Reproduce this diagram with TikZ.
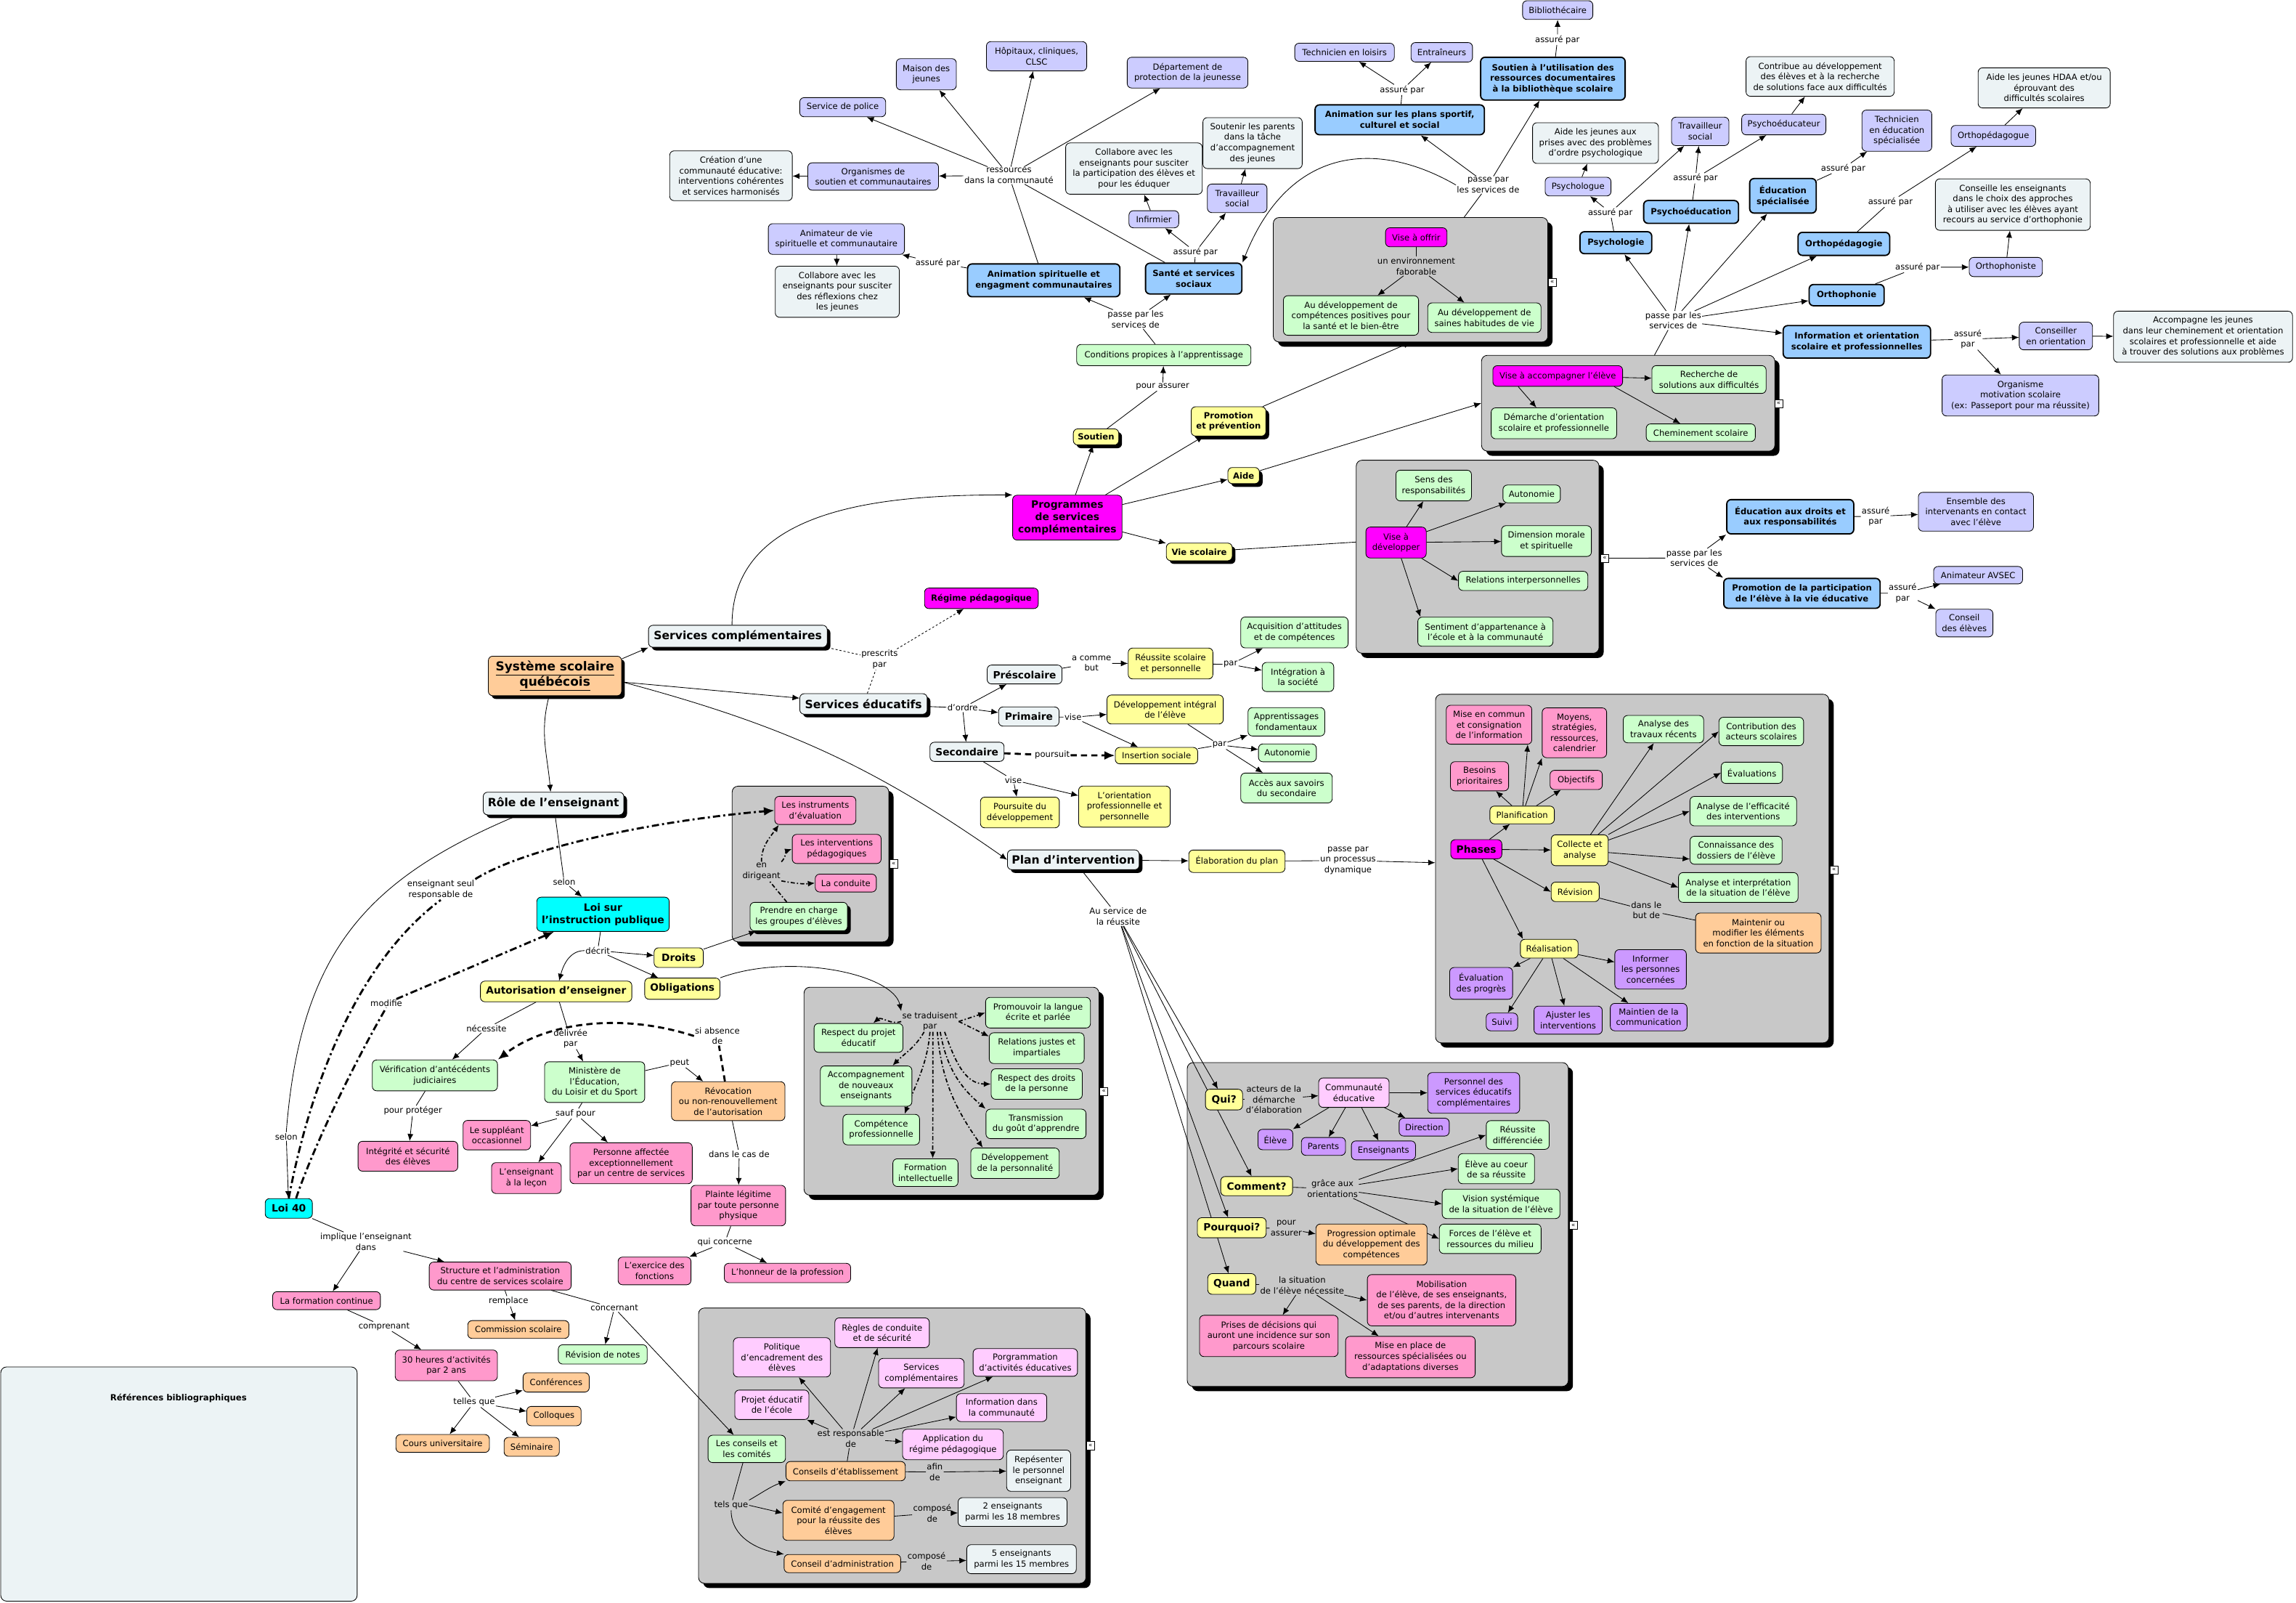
\documentclass[tikz,border=0pt]{standalone}
\usepackage{fontspec}
\setmainfont{DejaVu Sans}
\usetikzlibrary{arrows.meta,shadows}
\pgfdeclarelayer{bg}\pgfdeclarelayer{mid}\pgfsetlayers{bg,mid,main}
\definecolor{cLav}{HTML}{CCCCFF}
\definecolor{cGry}{HTML}{ECF3F5}
\definecolor{cGrn}{HTML}{CCFFCC}
\definecolor{cYel}{HTML}{FFFF99}
\definecolor{cMag}{HTML}{FF00FF}
\definecolor{cPnk}{HTML}{FF99CC}
\definecolor{cLpk}{HTML}{FFCCFF}
\definecolor{cPur}{HTML}{CC99FF}
\definecolor{cOrg}{HTML}{FFCC99}
\definecolor{cCya}{HTML}{00FFFF}
\definecolor{cBlu}{HTML}{99CCFF}
\definecolor{cCont}{HTML}{C8C8C8}
\newcommand\ftN{\fontsize{8.2}{10.3}\selectfont}
\newcommand\ftB{\fontsize{8.2}{10.3}\selectfont\bfseries}
\newcommand\ftM{\fontsize{9.7}{11.5}\selectfont\bfseries}
\newcommand\ftP{\fontsize{9.8}{11.9}\selectfont\bfseries}
\newcommand\ftH{\fontsize{11}{13}\selectfont\bfseries}
\newcommand\ftS{\fontsize{12}{15}\selectfont\bfseries}
\tikzset{
 bx/.style={draw, rounded corners=1.5mm, line width=0.6pt, align=center, inner xsep=1.5pt, inner ysep=1pt, font=\ftN, text=black},
 lav/.style={bx, fill=cLav}, gry/.style={bx, fill=cGry}, grn/.style={bx, fill=cGrn},
 yel/.style={bx, fill=cYel}, mag/.style={bx, fill=cMag}, pnk/.style={bx, fill=cPnk},
 lpk/.style={bx, fill=cLpk}, pur/.style={bx, fill=cPur}, org/.style={bx, fill=cOrg},
 cya/.style={bx, fill=cCya}, blu/.style={bx, fill=cBlu, line width=1.3pt, font=\ftB},
 shd/.style={drop shadow={shadow xshift=0.11cm, shadow yshift=-0.11cm, fill=black, opacity=1}},
 cont/.style={draw, fill=cCont, rounded corners=2mm, line width=0.6pt, drop shadow={shadow xshift=0.16cm, shadow yshift=-0.16cm, fill=black, opacity=1}},
 lbl/.style={inner sep=0.8pt, align=center, font=\ftN, text=black},
 mw/.style={minimum width=#1*0.05cm}, mh/.style={minimum height=#1*0.05cm},
 con/.style={draw, line width=0.6pt},
 arr/.style={con, -{Latex[length=2.4mm,width=2mm]}},
 tarr/.style={-{Latex[length=3.6mm,width=3mm]}},
 dd/.style={line width=1.2pt, dash pattern=on 4pt off 2pt on 1.2pt off 2pt},
 DD/.style={line width=2pt, dash pattern=on 7pt off 3pt on 2pt off 3pt},
 dshT/.style={line width=2pt, dash pattern=on 6pt off 4pt},
 dsh2/.style={line width=0.6pt, dash pattern=on 2pt off 2pt},
 xp/.style={draw, fill=white, inner sep=0pt, minimum size=0.28cm, line width=0.4pt, font=\fontsize{6}{6}\selectfont}
}
\begin{document}
\begin{tikzpicture}[x=0.05cm,y=-0.05cm]
\path[use as bounding box] (0,0) rectangle (1568,1094);
\begin{pgfonlayer}{bg}
\fill[white] (0,0) rectangle (1568,1094);
\node[cont,mw=187.5,mh=85] (cont1) at (963.3,191) {};
\node[cont,mw=200.3,mh=65.4] (cont2) at (1111.9,275.3) {};
\node[cont,mw=165.8,mh=131.8] (cont3) at (1009.1,380.1) {};
\node[cont,mw=268.7,mh=238] (cont4) at (1114.7,593) {};
\node[cont,mw=107,mh=106.3] (cont5) at (553.5,589.9) {};
\node[cont,mw=201.4,mh=142] (cont6) at (649.8,745) {};
\node[cont,mw=264.5,mh=188] (cont7) at (609.3,987) {};
\node[cont,mw=260.2,mh=221.1] (cont8) at (940.9,836) {};
\node[gry,rounded corners=2mm,mw=243.4,mh=159.9] (refbox) at (122.2,1013.2) {};
\end{pgfonlayer}
% expand icons
\node[xp] (xp1) at (1060,192.7) {«};
\node[xp] (xp2) at (1214.7,275.6) {«};
\node[xp] (xp3) at (1095.9,381.1) {«};
\node[xp] (xp4) at (1252.5,593.8) {«};
\node[xp] (xp5) at (610.3,589.8) {«};
\node[xp] (xp6) at (753.8,745.2) {«};
\node[xp] (xp7) at (744.7,987) {«};
\node[xp] (xp8) at (1074.4,836.5) {«};
% top left
\node[lav,mw=41,mh=21.3] (maison) at (632.6,50.7) {Maison des\\jeunes};
\node[lav,mw=68.5,mh=20] (hopit) at (707.9,38.4) {Hôpitaux, cliniques,\\CLSC};
\node[lav,mw=82.4,mh=21] (dpj) at (811,49.6) {Département de\\protection de la jeunesse};
\node[lav,mw=58.7,mh=13.1] (police) at (575.5,73.2) {Service de police};
\node[gry,mw=83.7,mh=34] (creation) at (499.2,120) {Création d'une\\communauté éducative:\\interventions cohérentes\\et services harmonisés};
\node[lav,mw=89.3,mh=18.7] (organ) at (596.3,120.5) {Organismes de\\soutien et communautaires};
\node[lbl] (lres) at (689,119.8) {ressources\\dans la communauté};
\node[lav,mw=93,mh=21] (animvie) at (571.2,163.2) {Animateur de vie\\spirituelle et communautaire};
\node[gry,mw=84.7,mh=34.9] (collspi) at (571.8,199.2) {Collabore avec les\\enseignants pour susciter\\des réflexions chez\\les jeunes};
\node[lbl] (lasp) at (640.4,179.7) {assuré par};
\node[blu,mw=104,mh=22.4] (animspi) at (712.8,191.4) {Animation spirituelle et\\engagment communautaires};
\node[gry,mw=93.3,mh=35] (collsan) at (774.4,115.1) {Collabore avec les\\enseignants pour susciter\\la participation des élèves et\\pour les éduquer};
\node[lav,mw=34,mh=11.7] (infirm) at (788,149.7) {Infirmier};
\node[gry,mw=67.8,mh=34.8] (soutpar) at (855.4,97.7) {Soutenir les parents\\dans la tâche\\d'accompagnement\\des jeunes};
\node[lav,mw=40.7,mh=19.5] (travsan) at (844.9,135.4) {Travailleur\\social};
\node[lbl] (lasan) at (816.4,172) {assuré par};
\node[blu,mw=65.8,mh=21] (sante) at (815.2,190.2) {Santé et services\\sociaux};
\node[lbl] (lpps1) at (775.5,218) {passe par les\\services de};
\node[grn,mw=119,mh=14.5] (cond) at (794.8,242.4) {Conditions propices à l'apprentissage};
\node[lbl] (lpour) at (794,264) {pour assurer};
\node[yel,shd,font=\ftB,mw=31,mh=11] (soutien) at (748.5,298.3) {Soutien};
\node[mag,font=\ftP,mw=74.7,mh=30.6] (prog) at (728.9,353.4) {Programmes\\de services\\complémentaires};
% top middle
\node[lav,mw=48,mh=12.8] (biblio) at (1063.8,6.9) {Bibliothécaire};
\node[lbl] (lbib) at (1063.6,27.1) {assuré par};
\node[lav,mw=68,mh=12.4] (techloi) at (918.2,35.7) {Technicien en loisirs};
\node[lav,mw=42,mh=13.3] (entr) at (984.6,35.7) {Entraîneurs};
\node[lbl] (lasport) at (957.6,61.3) {assuré par};
\node[blu,mw=98.7,mh=29.2] (soutbib) at (1060.5,53.7) {Soutien à l'utilisation des\\ressources documentaires\\à la bibliothèque scolaire};
\node[blu,mw=115.6,mh=20.4] (animsport) at (955.9,81.8) {Animation sur les plans sportif,\\culturel et social};
\node[lbl] (lpps2) at (1016.3,126.3) {passe par\\les services de};
\node[mag,mw=42,mh=13] (viseoff) at (967.2,162) {Vise à offrir};
\node[lbl] (lenv) at (967.2,181.8) {un environnement\\faborable};
\node[grn,mw=92.3,mh=27] (devcomp) at (922.6,215.4) {Au développement de\\compétences positives pour\\la santé et le bien-être};
\node[grn,mw=77.4,mh=20.2] (devsain) at (1013.7,216.9) {Au développement de\\saines habitudes de vie};
\node[gry,mw=86,mh=27.8] (aidepsy) at (1089.6,97.7) {Aide les jeunes aux\\prises avec des problèmes\\d'ordre psychologique};
\node[lav,mw=45,mh=12.8] (psylog) at (1077.7,127.4) {Psychologue};
\node[lbl] (lapsy) at (1099.7,145.1) {assuré par};
\node[blu,mw=49,mh=15] (psychologie) at (1103.5,165.7) {Psychologie};
\node[lav,mw=39.2,mh=19.4] (travpse) at (1161.1,89.7) {Travailleur\\social};
\node[lbl] (lapse) at (1157.9,121.7) {assuré par};
\node[blu,mw=64.8,mh=15.6] (psyed) at (1154.9,144.7) {Psychoéducation};
\node[lbl] (lpps3) at (1142.7,218.8) {passe par les\\services de};
\node[mag,mw=88.6,mh=14.1] (viseacc) at (1063.8,256.7) {Vise à accompagner l'élève};
\node[grn,mw=78,mh=19] (recherche) at (1167.1,259.1) {Recherche de\\solutions aux difficultés};
\node[grn,mw=85.7,mh=21.1] (demarche) at (1061.2,289) {Démarche d'orientation\\scolaire et professionnelle};
\node[grn,mw=74.5,mh=12] (chemin) at (1161.5,295.4) {Cheminement scolaire};
\node[yel,shd,font=\ftB,mw=51,mh=20] (promprev) at (839,287.7) {Promotion\\et prévention};
\node[yel,shd,font=\ftB,mw=21.5,mh=11] (aide) at (849.3,324.7) {Aide};
\node[grn,mw=51.6,mh=21] (sens) at (979.1,331.5) {Sens des\\responsabilités};
\node[grn,mw=39.2,mh=12.1] (autonvs) at (1046,337.2) {Autonomie};
% top right
\node[gry,mw=101.2,mh=27.1] (contribue) at (1243,52.2) {Contribue au développement\\des élèves et à la recherche\\de solutions face aux difficultés};
\node[lav,mw=57.5,mh=14.1] (psyeduc) at (1218.2,85) {Psychoéducateur};
\node[lav,mw=47.7,mh=28.1] (techedu) at (1295.4,89.2) {Technicien\\en éducation\\spécialisée};
\node[lbl] (laes) at (1258.8,114.9) {assuré par};
\node[blu,mw=45.4,mh=23.6] (educspe) at (1217.6,133.7) {Éducation\\spécialisée};
\node[gry,mw=90.2,mh=27.4] (hdaa) at (1396,60) {Aide les jeunes HDAA et/ou\\éprouvant des\\difficultés scolaires};
\node[lav,mw=57.8,mh=14.3] (orthog) at (1361.3,92.8) {Orthopédagogue};
\node[lbl] (laopg) at (1291,137.8) {assuré par};
\node[blu,mw=62.6,mh=15.7] (orthogie) at (1259.2,166.5) {Orthopédagogie};
\node[gry,mw=105.8,mh=35.1] (conseille) at (1374.6,139.7) {Conseille les enseignants\\dans le choix des approches\\à utiliser avec les élèves ayant\\recours au service d'orthophonie};
\node[lav,mw=50,mh=13.1] (orthoniste) at (1369.8,182.3) {Orthophoniste};
\node[lbl] (laoph) at (1309.5,182.5) {assuré par};
\node[blu,mw=51.2,mh=14.5] (orthonie) at (1261.1,201.5) {Orthophonie};
\node[blu,mw=100.6,mh=22.2] (info) at (1268.1,233.4) {Information et orientation\\scolaire et professionnelles};
\node[lbl] (lainfo) at (1343.8,231.6) {assuré\\par};
\node[lav,mw=50,mh=18.9] (conseiller) at (1404,229.4) {Conseiller\\en orientation};
\node[gry,mw=122.2,mh=34.9] (accomp) at (1504.5,229.9) {Accompagne les jeunes\\dans leur cheminement et orientation\\scolaires et professionnelle et aide\\à trouver des solutions aux problèmes};
\node[lav,mw=107,mh=28] (organisme) at (1379.8,270) {Organisme\\motivation scolaire\\(ex: Passeport pour ma réussite)};
\node[blu,mw=86.7,mh=23.4] (educdroits) at (1222.6,352.8) {Éducation aux droits et\\aux responsabilités};
\node[lbl] (ladroits) at (1280.9,352.6) {assuré\\par};
\node[lav,mw=78.6,mh=26.5] (ensemble) at (1349.4,349.4) {Ensemble des\\intervenants en contact\\avec l'élève};
\node[blu,mw=106.8,mh=20.4] (promopart) at (1230.6,405.1) {Promotion de la participation\\de l'élève à la vie éducative};
\node[lbl] (lpps4) at (1157,381) {passe par les\\services de};
\node[lbl] (lavsec) at (1299.4,405) {assuré\\par};
\node[lav,mw=60.8,mh=11.9] (avsec) at (1350.9,392.7) {Animateur AVSEC};
\node[lav,mw=39,mh=18.9] (conselev) at (1341.5,425.4) {Conseil\\des élèves};
% container 3
\node[mag,mw=41.2,mh=21.1] (visedev) at (953.4,370.4) {Vise à\\développer};
\node[grn,mw=61.4,mh=21] (dimmor) at (1056.1,369.4) {Dimension morale\\et spirituelle};
\node[grn,mw=88.3,mh=13.1] (relint) at (1040.2,396.6) {Relations interpersonnelles};
\node[grn,mw=92.3,mh=19.9] (sentim) at (1014.4,431.3) {Sentiment d'appartenance à\\l'école et à la communauté};
\node[yel,shd,font=\ftB,mw=45,mh=12] (viescol) at (819,376.8) {Vie scolaire};
% container 4
\node[grn,mw=57.8,mh=19.4] (contrib) at (1202.8,499.4) {Contribution des\\acteurs scolaires};
\node[grn,mw=41.9,mh=14.5] (evals) at (1196.4,527.6) {Évaluations};
\node[grn,mw=72.8,mh=20.1] (analeff) at (1190.5,553.8) {Analyse de l'efficacité\\des interventions};
\node[grn,mw=62.9,mh=19.1] (connais) at (1185.6,580.5) {Connaissance des\\dossiers de l'élève};
\node[grn,mw=81.6,mh=20.3] (analint) at (1187.1,605.9) {Analyse et interprétation\\de la situation de l'élève};
\node[org,mw=85.7,mh=27.3] (maintenir) at (1200.8,637) {Maintenir ou\\modifier les éléments\\en fonction de la situation};
\node[pnk,mw=58.4,mh=26.6] (misecom) at (1016.9,494.8) {Mise en commun\\et consignation\\de l'information};
\node[pnk,mw=44,mh=34] (moyens) at (1075.2,500.3) {Moyens,\\stratégies,\\ressources,\\calendrier};
\node[grn,mw=54.9,mh=18.7] (analtrav) at (1136,497.8) {Analyse des\\travaux récents};
\node[pnk,mw=39.7,mh=19.9] (besoins) at (1010.4,530) {Besoins\\prioritaires};
\node[pnk,mw=35.7,mh=13.1] (objectifs) at (1076.4,532.5) {Objectifs};
\node[yel,mw=44,mh=12.1] (planif) at (1039.5,556.4) {Planification};
\node[mag,font=\ftM,mw=34.9,mh=13.1] (phases) at (1008.2,579.8) {Phases};
\node[yel,mw=38.9,mh=21.1] (collecte) at (1078.8,580.5) {Collecte et\\analyse};
\node[yel,mw=32.8,mh=13.3] (revision) at (1075.7,608.9) {Révision};
\node[lbl] (lbut) at (1124.3,621.4) {dans le\\but de};
\node[yel,mw=39.4,mh=12.8] (realis) at (1058,647.7) {Réalisation};
\node[pur,mw=43,mh=21.7] (evalprog) at (1011.5,671.4) {Évaluation\\des progrès};
\node[pur,mw=48.8,mh=26.9] (informer) at (1127.2,661.8) {Informer\\les personnes\\concernées};
\node[pur,mw=21.5,mh=12.1] (suivi) at (1025.7,697.7) {Suivi};
\node[pur,mw=46.6,mh=19.2] (ajuster) at (1070.9,696.5) {Ajuster les\\interventions};
\node[pur,mw=52.4,mh=18.7] (maintien) at (1125.9,694.4) {Maintien de la\\communication};
% services éducatifs
\node[grn,mw=73.3,mh=21.1] (acquis) at (884,431.8) {Acquisition d'attitudes\\et de compétences};
\node[yel,mw=57.8,mh=21.1] (reussite) at (799.4,453) {Réussite scolaire\\et personnelle};
\node[lbl] (lpar1) at (840.4,453.6) {par};
\node[grn,mw=48.9,mh=19.9] (integ) at (886.4,462.2) {Intégration à\\la société};
\node[yel,mw=79.4,mh=19.8] (devint) at (795.7,484.4) {Développement intégral\\de l'élève};
\node[grn,mw=52.4,mh=19.4] (apprent) at (878.5,492.8) {Apprentissages\\fondamentaux};
\node[lbl] (lpar2) at (832.8,508.6) {par};
\node[grn,mw=39.5,mh=12.2] (autonpr) at (879.2,514) {Autonomie};
\node[yel,mw=56.3,mh=11.2] (insert) at (789.8,515.9) {Insertion sociale};
\node[grn,mw=62.5,mh=20.4] (acces) at (878.6,538) {Accès aux savoirs\\du secondaire};
\node[yel,mw=62.6,mh=28.1] (orientpro) at (767.9,550.7) {L'orientation\\professionnelle et\\personnelle};
\node[yel,mw=65.7,mh=15.3] (elabo) at (844.7,588) {Élaboration du plan};
\node[lbl] (lproc) at (920.6,587.5) {passe par\\un processus\\dynamique};
\node[mag,font=\ftB,mw=77.7,mh=14] (regime) at (670.2,408.5) {Régime pédagogique};
\node[gry,shd,font=\ftH,mw=122,mh=15] (servcomp) at (503.9,434.4) {Services complémentaires};
\node[lbl] (lpresc) at (600.7,450.1) {prescrits\\par};
\node[gry,shd,font=\ftH,mw=87,mh=14] (serveduc) at (589.7,480.6) {Services éducatifs};
\node[org,shd,font=\ftS,mw=91,mh=27] (systeme) at (379,461.5) {\underline{Système scolaire}\\\underline{québécois}};
\node[gry,font=\ftM,mw=51.1,mh=12.9] (prescol) at (699.7,460.5) {Préscolaire};
\node[lbl] (lbut2) at (745.4,452.9) {a comme\\but};
\node[gry,font=\ftM,mw=41.3,mh=13.1] (primaire) at (702.6,489.2) {Primaire};
\node[lbl] (lordre) at (657.4,483.3) {d'ordre};
\node[lbl] (lvise1) at (732.8,489.7) {vise};
\node[gry,font=\ftM,mw=50.6,mh=13.1] (second) at (660.4,513.3) {Secondaire};
\node[lbl] (lpours) at (718.6,515.6) {poursuit};
\node[lbl] (lvise2) at (692,532.5) {vise};
\node[yel,mw=53.9,mh=21] (poursuite) at (696.5,554.7) {Poursuite du\\développement};
\node[gry,shd,font=\ftH,mw=90,mh=13.5] (plan) at (733,587) {Plan d'intervention};
\node[lbl] (lserv) at (763.6,625.6) {Au service de\\la réussite};
% container 5
\node[pnk,mw=55.4,mh=19.2] (instr) at (556.8,553.3) {Les instruments\\d'évaluation};
\node[pnk,mw=60.7,mh=19.9] (interv) at (571.4,579.6) {Les interventions\\pédagogiques};
\node[pnk,mw=41.7,mh=12.2] (conduite) at (577.6,602.9) {La conduite};
\node[lbl] (ldir) at (520,594.9) {en\\dirigeant};
\node[grn,shd,mw=66.5,mh=19.5] (prendre) at (545.5,625.8) {Prendre en charge\\les groupes d'élèves};
\node[yel,font=\ftM,mw=33.6,mh=13.4] (droits) at (463.5,653.8) {Droits};
\node[lbl] (ldecrit) at (408.2,649) {décrit};
\node[yel,font=\ftM,mw=51.4,mh=14.5] (oblig) at (466,675) {Obligations};
% container 6
\node[lbl] (ltrad) at (635.1,697.4) {se traduisent\\par};
\node[grn,mw=71.6,mh=20.9] (promlang) at (708.9,691.4) {Promouvoir la langue\\écrite et parlée};
\node[grn,mw=60.7,mh=19.7] (respproj) at (586.3,708.6) {Respect du projet\\éducatif};
\node[grn,mw=64.8,mh=21] (reljust) at (708,715.6) {Relations justes et\\impartiales};
\node[grn,mw=62.5,mh=27.5] (accnouv) at (591.5,741.5) {Accompagnement\\de nouveaux\\enseignants};
\node[grn,mw=62.2,mh=20.8] (respdr) at (708,740.1) {Respect des droits\\de la personne};
\node[grn,mw=52.3,mh=20.8] (compet) at (601.8,771.2) {Compétence\\professionnelle};
\node[grn,mw=68.3,mh=20.1] (transm) at (707.5,767.3) {Transmission\\du goût d'apprendre};
\node[grn,mw=44.5,mh=18.9] (formint) at (632,800.6) {Formation\\intellectuelle};
\node[grn,mw=60.4,mh=20.8] (devpers) at (693.2,794.2) {Développement\\de la personnalité};
% lower left
\node[grn,mw=68.4,mh=27.8] (minist) at (406.1,738.8) {Ministère de\\l'Éducation,\\du Loisir et du Sport};
\node[lbl] (lpeut) at (464.1,725.6) {peut};
\node[org,mw=77.5,mh=26.6] (revoc) at (497.3,751.8) {Révocation\\ou non-renouvellement\\de l'autorisation};
\node[lbl] (lsauf) at (393,760.3) {sauf pour};
\node[pnk,mw=83.5,mh=28] (persaff) at (431,794.2) {Personne affectée\\exceptionnellement\\par un centre de services};
\node[lbl] (lcas) at (504.8,787.9) {dans le cas de};
\node[pnk,mw=64.6,mh=27.7] (plainte) at (504.2,823.1) {Plainte légitime\\par toute personne\\physique};
\node[lbl] (lconc) at (495,848.2) {qui concerne};
\node[pnk,mw=49.8,mh=18.9] (exerc) at (447,867.7) {L'exercice des\\fonctions};
\node[pnk,mw=86.3,mh=13.2] (honneur) at (537.8,869.1) {L'honneur de la profession};
\node[lbl] (lconcern) at (419.6,893) {concernant};
\node[grn,mw=60.7,mh=13.2] (revnotes) at (411.6,924.7) {Révision de notes};
\node[org,mw=45.2,mh=13.2] (conf) at (379.8,943.8) {Conférences};
\node[org,mw=37.1,mh=13.2] (colloq) at (378.3,966.8) {Colloques};
% container 7
\node[lpk,mw=64.5,mh=20.3] (regles) at (602.4,909.9) {Règles de conduite\\et de sécurité};
\node[lpk,mw=66.3,mh=26.8] (polit) at (534,926.7) {Politique\\d'encadrement des\\élèves};
\node[lpk,mw=58.4,mh=20.1] (servcomp2) at (629.2,937.5) {Services\\complémentaires};
\node[lpk,mw=71.3,mh=18.9] (porgram) at (700.2,930.2) {Porgrammation\\d'activités éducatives};
\node[lpk,mw=50.6,mh=20.1] (projet) at (527.1,959.1) {Projet éducatif\\de l'école};
\node[lpk,mw=61.7,mh=19.1] (infocom) at (684,961) {Information dans\\la communauté};
\node[lbl] (lresp) at (581,982.2) {est responsable\\de};
\node[lpk,mw=68.8,mh=20.8] (applic) at (650.8,986.2) {Application du\\régime pédagogique};
\node[grn,mw=52.9,mh=18.6] (conseils) at (510,989.2) {Les conseils et\\les comités};
\node[org,mw=81.5,mh=13.2] (conseilet) at (577.5,1004.4) {Conseils d'établissement};
\node[lbl] (lafin) at (638.4,1005) {afin\\de};
\node[gry,mw=43.7,mh=28.2] (repres) at (709.3,1004.1) {Repésenter\\le personnel\\enseignant};
\node[lbl] (ltels) at (499.3,1027.7) {tels que};
\node[org,mw=75.9,mh=27.3] (comite) at (572.6,1038) {Comité d'engagement\\pour la réussite des\\élèves};
\node[lbl] (lcomp1) at (636.6,1033.2) {composé\\de};
\node[gry,mw=74.4,mh=19.6] (deux) at (691.5,1032.3) {2 enseignants\\parmi les 18 membres};
\node[org,mw=79.6,mh=12.4] (ca) at (575.3,1067.5) {Conseil d'administration};
\node[lbl] (lcomp2) at (632.8,1066) {composé\\de};
\node[gry,mw=74.8,mh=19.8] (cinq) at (697.6,1064.5) {5 enseignants\\parmi les 15 membres};
% left
\node[grn,mw=85.5,mh=21.1] (verif) at (297,734.2) {Vérification d'antécédents\\judiciaires};
\node[lbl] (lprot) at (282,758.4) {pour protéger};
\node[pnk,mw=68.1,mh=20.4] (integr) at (278.6,789.4) {Intégrité et sécurité\\des élèves};
\node[pnk,mw=46.1,mh=20.1] (suppl) at (339.3,775) {Le suppléant\\occasionnel};
\node[pnk,mw=47.6,mh=21.1] (enslec) at (359.5,804.3) {L'enseignant\\à la leçon};
\node[lbl] (lselon2) at (195.5,775.9) {selon};
\node[cya,font=\ftP,mw=32.2,mh=13.4] (loi40) at (197.2,825) {Loi 40};
\node[lbl] (limpl) at (249.9,847.7) {implique l'enseignant\\dans};
\node[pnk,mw=96.9,mh=19.1] (struct) at (341.6,871.2) {Structure et l'administration\\du centre de services scolaire};
\node[pnk,mw=73.6,mh=12.3] (formcont) at (223,888) {La formation continue};
\node[lbl] (lrempl) at (347.3,888.4) {remplace};
\node[org,mw=69.1,mh=12.2] (commis) at (354,907.7) {Commission scolaire};
\node[lbl] (lcompr) at (262.3,905.6) {comprenant};
\node[pnk,mw=69.8,mh=21] (trente) at (304.8,932.2) {30 heures d'activités\\par 2 ans};
\node[lbl] (ltelles) at (323.8,957.3) {telles que};
\node[org,mw=63.8,mh=12.2] (cours) at (302.3,985.5) {Cours universitaire};
\node[org,mw=37.7,mh=12.9] (semin) at (363.1,987.8) {Séminaire};
\node[lbl,font=\ftB] (refttl) at (121.9,954.7) {Références bibliographiques};
\node[gry,shd,font=\ftH,mw=96,mh=15.5] (role) at (378,548.6) {Rôle de l'enseignant};
\node[lbl] (lseul) at (301,607.3) {enseignant seul\\responsable de};
\node[lbl] (lselon1) at (385.3,602.2) {selon};
\node[cya,font=\ftP,mw=90.4,mh=23.4] (loilip) at (411.8,624.2) {Loi sur\\l'instruction publique};
\node[yel,font=\ftM,mw=103.4,mh=14.1] (autor) at (379.8,676.9) {Autorisation d'enseigner};
\node[lbl] (lmodif) at (263.8,685) {modifie};
\node[lbl] (lnecess) at (332.2,702.1) {nécessite};
\node[lbl] (ldeliv) at (389.6,709.1) {délivrée\\par};
\node[lbl] (labs) at (489.9,707.3) {si absence\\de};
% container 8
\node[yel,font=\ftM,mw=25.3,mh=14.1] (qui) at (835.9,750.7) {Qui?};
\node[lbl] (lact) at (870,750.7) {acteurs de la\\démarche\\d'élaboration};
\node[lpk,mw=48.1,mh=20.1] (commun) at (924.6,746) {Communauté\\éducative};
\node[pur,mw=62.8,mh=27.8] (personnel) at (1006.4,746.2) {Personnel des\\services éducatifs\\complémentaires};
\node[pur,mw=23.8,mh=13.9] (eleve) at (871,778) {Élève};
\node[pur,mw=30.1,mh=12.2] (parents) at (903.8,782.7) {Parents};
\node[pur,mw=43.8,mh=12.9] (enseign) at (944.8,785.4) {Enseignants};
\node[pur,mw=34.2,mh=12.2] (direct) at (972.6,769.5) {Direction};
\node[grn,mw=43,mh=19.6] (reudiff) at (1036.5,774.9) {Réussite\\différenciée};
\node[grn,mw=52.1,mh=20.6] (elcoeur) at (1021.9,797.9) {Élève au coeur\\de sa réussite};
\node[yel,font=\ftM,mw=49.1,mh=13.1] (comment) at (858.2,809.8) {Comment?};
\node[lbl] (lgrace) at (910,811.5) {grâce aux\\orientations};
\node[grn,mw=80.4,mh=20.1] (vision) at (1025.1,821.9) {Vision systémique\\de la situation de l'élève};
\node[grn,mw=69.5,mh=20.1] (forces) at (1017.7,845.8) {Forces de l'élève et\\ressources du milieu};
\node[yel,font=\ftM,mw=47,mh=13.7] (pourquoi) at (841.2,838.2) {Pourquoi?};
\node[lbl] (lassur) at (878.4,838.6) {pour\\assurer};
\node[org,mw=75.9,mh=28] (progres) at (936.6,849.7) {Progression optimale\\du développement des\\compétences};
\node[yel,font=\ftM,mw=32.8,mh=14.1] (quand) at (841.2,876.6) {Quand};
\node[lbl] (lsitu) at (889.3,877.6) {la situation\\de l'élève nécessite};
\node[pnk,mw=101.4,mh=35] (mobil) at (984.5,887.7) {Mobilisation\\de l'élève, de ses enseignants,\\de ses parents, de la direction\\et/ou d'autres intervenants};
\node[pnk,mw=94.6,mh=28.2] (prises) at (866.5,912.1) {Prises de décisions qui\\auront une incidence sur son\\parcours scolaire};
\node[pnk,mw=88.5,mh=28.3] (miseplace) at (963.2,926.5) {Mise en place de\\ressources spécialisées ou\\d'adaptations diverses};

\begin{pgfonlayer}{mid}
% main trunk
\draw[arr] ([yshift=-0.1cm]systeme.north east) -- (servcomp.south west);
\draw[arr] (systeme) -- (serveduc);
\draw[arr] ([yshift=-0.2cm]systeme.east) to[out=-15,in=145] (plan.west);
\draw[arr] ([xshift=-0.2cm]systeme.south) to[out=-105,in=95] ([xshift=-0.1cm]role.north);
\draw[arr] ([xshift=-0.2cm]servcomp.north) to[out=90,in=180] (prog.north west);
\draw[dsh2] (servcomp.south east) -- (lpresc);
\draw[dsh2] (serveduc) -- (lpresc);
\draw[dsh2,-{Latex[length=2.4mm,width=2mm]}] (lpresc) -- (regime);
\draw[arr] (prog) -- (soutien);
\draw[arr] (prog) -- (promprev);
\draw[arr] (prog) -- (aide);
\draw[arr] (prog) -- (viescol);
\draw[con] (soutien) -- (lpour); \draw[arr] (lpour) -- (cond);
\draw[con] (cond) -- (lpps1); \draw[arr] (lpps1) -- (animspi); \draw[arr] (lpps1) -- (sante);
\draw[con] (animspi) -- (lres);
\draw[con] (sante) -- (lres);
\foreach \tg in {police,maison,hopit,dpj,organ} \draw[arr] (lres) -- (\tg);
\draw[arr] (organ) -- (creation);
\draw[con] (animspi) -- (lasp); \draw[arr] (lasp) -- (animvie);
\draw[arr] (animvie) -- (collspi);
\draw[con] (sante) -- (lasan); \draw[arr] (lasan) -- (infirm); \draw[arr] (lasan) -- (travsan);
\draw[arr] (infirm) -- (collsan); \draw[arr] (travsan) -- (soutpar);
\draw[arr] (promprev) -- (cont1.south);
\draw[con] ([xshift=1.83cm]cont1.north) -- (lpps2);
\draw[arr] (lpps2) -- (animsport); \draw[arr] (lpps2) -- (soutbib);
\draw[arr] (lpps2.west) .. controls (940,95) and (880,100) .. (sante.north east);
\draw[con] (animsport) -- (lasport); \draw[arr] (lasport) -- (techloi); \draw[arr] (lasport) -- (entr);
\draw[con] (soutbib) -- (lbib); \draw[arr] (lbib) -- (biblio);
\draw[con] (viseoff) -- (lenv); \draw[arr] (lenv) -- (devcomp); \draw[arr] (lenv) -- (devsain);
\draw[arr] (aide) -- (cont2.west);
\draw[con] ([xshift=0.9cm]cont2.north) -- (lpps3);
\foreach \tg in {psychologie,psyed,educspe,orthogie,orthonie,info} \draw[arr] (lpps3) -- (\tg);
\draw[arr] (viseacc) -- (recherche);
\draw[arr] ([xshift=-1.35cm]viseacc.south) -- ([xshift=-0.6cm]demarche.north);
\draw[arr] ([xshift=-0.3cm]viseacc.south east) -- ([xshift=-0.7cm]chemin.north);
\draw[con] (psychologie) -- (lapsy); \draw[arr] (lapsy) -- (psylog); \draw[arr] (lapsy) -- (travpse);
\draw[arr] (psylog) -- (aidepsy);
\draw[con] (psyed) -- (lapse); \draw[arr] (lapse) -- (travpse); \draw[arr] (lapse) -- (psyeduc);
\draw[arr] (psyeduc) -- (contribue);
\draw[con] (educspe) -- (laes); \draw[arr] (laes) -- (techedu);
\draw[con] (orthogie) -- (laopg); \draw[arr] (laopg) -- (orthog);
\draw[arr] (orthog) -- (hdaa);
\draw[con] (orthonie) -- (laoph); \draw[arr] (laoph) -- (orthoniste);
\draw[arr] (orthoniste) -- (conseille);
\draw[con] (info) -- (lainfo); \draw[arr] (lainfo) -- (conseiller); \draw[arr] (lainfo) -- (organisme);
\draw[arr] (conseiller) -- (accomp);
\draw[con] (viescol) -- ([yshift=0.5cm]cont3.west);
\draw[con] (xp3) -- (lpps4);
\draw[arr] (lpps4) -- (educdroits.south west);
\draw[arr] (lpps4) -- (promopart.north west);
\draw[con] (educdroits) -- (ladroits); \draw[arr] (ladroits) -- (ensemble);
\draw[con] (promopart) -- (lavsec); \draw[arr] (lavsec) -- (avsec); \draw[arr] (lavsec) -- (conselev);
\draw[arr] (visedev) -- (sens); \draw[arr] (visedev) -- (autonvs); \draw[arr] (visedev) -- (dimmor);
\draw[arr] (visedev) -- (relint.west); \draw[arr] (visedev) -- ([xshift=0.1cm]sentim.north west);
% services éducatifs
\draw[con] (serveduc) -- (lordre);
\draw[arr] (lordre) -- (prescol); \draw[arr] (lordre) -- (primaire); \draw[arr] (lordre) -- (second);
\draw[con] (prescol) -- (lbut2); \draw[arr] (lbut2) -- (reussite);
\draw[con] (reussite) -- (lpar1); \draw[arr] (lpar1) -- (acquis); \draw[arr] (lpar1) -- (integ);
\draw[con] (primaire) -- (lvise1); \draw[arr] (lvise1) -- (devint); \draw[arr] (lvise1) -- (insert);
\draw[con] (devint) -- (lpar2); \draw[con] (insert) -- (lpar2);
\draw[arr] (lpar2) -- (apprent); \draw[arr] (lpar2) -- (autonpr); \draw[arr] (lpar2) -- (acces);
\draw[dshT] (second) -- (lpours); \draw[dshT,tarr] (lpours) -- (insert);
\draw[con] (second) -- (lvise2); \draw[arr] (lvise2) -- (poursuite); \draw[arr] (lvise2) -- (orientpro);
\draw[arr] (plan) -- (elabo);
\draw[con] (elabo) -- (lproc); \draw[arr] (lproc) -- ([yshift=0.2cm]cont4.west);
\draw[con] (plan) -- (lserv);
\foreach \tg in {qui,comment,pourquoi,quand} \draw[arr] (lserv) -- (\tg);
% container 4
\draw[arr] (phases) -- (planif); \draw[arr] (phases) -- (collecte); \draw[arr] (phases) -- (revision.west);
\draw[arr] ([xshift=0.2cm]phases.south) -- ([xshift=-0.9cm]realis.north);
\draw[arr] (planif) -- ([xshift=-0.15cm]misecom.south east);
\draw[arr] (planif) -- (moyens.south west);
\draw[arr] (planif) -- (besoins); \draw[arr] (planif) -- (objectifs);
\draw[arr] (collecte) -- (analtrav); \draw[arr] (collecte) -- (contrib.west); \draw[arr] (collecte) -- (evals.west);
\draw[arr] (collecte) -- (analeff.west); \draw[arr] (collecte) -- ([yshift=-0.3cm]connais.west); \draw[arr] (collecte) -- (analint.west);
\draw[con] (revision) -- (lbut); \draw[con] (lbut) -- (maintenir);
\draw[arr] (realis) -- (evalprog); \draw[arr] (realis) -- (suivi); \draw[arr] (realis) -- (ajuster);
\draw[arr] (realis) -- (maintien); \draw[arr] (realis) -- (informer);
% container 5 and droits
\draw[con,dd] (prendre) -- (ldir);
\draw[arr,dd] (ldir.north) to[out=90,in=235] ([xshift=0.15cm]instr.south west);
\draw[arr,dd] (ldir.north east) to[out=45,in=200] (interv.west);
\draw[arr,dd] (ldir.south east) to[out=-10,in=185] (conduite.west);
\draw[arr] (droits) -- (prendre);
\draw[con] (loilip) -- (ldecrit);
\draw[arr] (ldecrit) -- (droits); \draw[arr] (ldecrit) -- (oblig);
\draw[arr] (ldecrit.west) to[out=180,in=75] ([xshift=0.1cm]autor.north);
\draw[arr] (oblig.north east) .. controls (540,650) and (610,665) .. (ltrad.north west);
% container 6
\draw[arr,dd] (ltrad.west) to[out=200,in=40] ([xshift=0.5cm]respproj.north);
\draw[arr,dd] (ltrad.east) -- (promlang.west);
\draw[arr,dd] (ltrad.east) -- ([yshift=0.4cm]reljust.west);
\draw[arr,dd] ([xshift=-0.2cm]ltrad.south) to[out=-120,in=45] ([xshift=0.9cm]accnouv.north);
\draw[arr,dd] (ltrad.south) to[out=-95,in=70] ([xshift=0.8cm]compet.north);
\draw[arr,dd] ([xshift=0.1cm]ltrad.south) -- ([xshift=0.25cm]formint.north);
\draw[arr,dd] ([xshift=0.25cm]ltrad.south) to[out=-85,in=125] ([xshift=-1.1cm]devpers.north);
\draw[arr,dd] ([xshift=0.35cm]ltrad.south) to[out=-80,in=140] (transm.north west);
\draw[arr,dd] ([xshift=0.5cm]ltrad.south) to[out=-70,in=180] (respdr.west);
% rôle / lois
\draw[con] (role) -- (lselon1); \draw[arr] (lselon1) -- (loilip);
\draw[con] ([xshift=1.2cm]role.south west) .. controls (250,600) and (205,650) .. (lselon2.north);
\draw[arr] (lselon2) -- (loi40);
\draw[con,DD] (loi40.north) .. controls (210,750) and (240,660) .. (lseul.south);
\draw[con,DD,tarr] (lseul.north east) .. controls (360,578) and (450,560) .. (instr.west);
\draw[con,DD] ([xshift=0.25cm]loi40.north) .. controls (215,780) and (245,720) .. (lmodif.south);
\draw[con,DD,tarr] (lmodif) -- ([xshift=0.6cm]loilip.south west);
\draw[con] (autor) -- (lnecess); \draw[arr] (lnecess) -- (verif);
\draw[con] (autor) -- (ldeliv); \draw[arr] (ldeliv) -- (minist);
\draw[con] (minist) -- (lpeut); \draw[arr] (lpeut) -- (revoc);
\draw[con,dshT] (revoc) -- (labs);
\draw[con,dshT,tarr] (labs.west) .. controls (420,690) and (370,700) .. (verif.north east);
\draw[con] (minist) -- (lsauf); \draw[arr] (lsauf) -- (suppl); \draw[arr] (lsauf) -- (enslec); \draw[arr] (lsauf) -- (persaff);
\draw[con] (verif) -- (lprot); \draw[arr] (lprot) -- (integr);
\draw[con] (revoc) -- (lcas); \draw[arr] (lcas) -- (plainte);
\draw[con] (plainte) -- (lconc); \draw[arr] (lconc) -- (exerc); \draw[arr] (lconc) -- (honneur);
\draw[con] (loi40) -- (limpl); \draw[arr] (limpl) -- (formcont); \draw[arr] (limpl) -- (struct);
\draw[con] (formcont) -- (lcompr); \draw[arr] (lcompr) -- (trente);
\draw[con] (trente) -- (ltelles);
\foreach \tg in {conf,colloq,cours,semin} \draw[arr] (ltelles) -- (\tg);
\draw[con] (struct) -- (lrempl); \draw[arr] (lrempl) -- (commis);
\draw[con] (struct) -- (lconcern); \draw[arr] (lconcern) -- (revnotes); \draw[arr] (lconcern) -- (conseils);
% container 7
\draw[con] (conseils) -- (ltels);
\draw[arr] (ltels.north east) to[out=30,in=200] (conseilet.south west);
\draw[arr] (ltels.east) -- ([yshift=0.25cm]comite.west);
\draw[arr] (ltels.south) to[out=-90,in=170] (ca.north west);
\draw[con] (conseilet) -- (lresp);
\foreach \tg in {polit,projet,regles,servcomp2,porgram,infocom,applic} \draw[arr] (lresp) -- (\tg);
\draw[con] (conseilet) -- (lafin); \draw[arr] (lafin) -- (repres);
\draw[con] (comite) -- (lcomp1); \draw[arr] (lcomp1) -- (deux);
\draw[con] (ca) -- (lcomp2); \draw[arr] (lcomp2) -- (cinq);
% container 8
\draw[con] (qui) -- (lact); \draw[arr] (lact) -- (commun);
\foreach \tg in {personnel,eleve,parents,enseign,direct} \draw[arr] (commun) -- (\tg);
\draw[con] (comment) -- (lgrace);
\foreach \tg in {reudiff,elcoeur,vision,forces} \draw[arr] (lgrace) -- (\tg.west);
\draw[con] (pourquoi) -- (lassur); \draw[arr] (lassur) -- (progres);
\draw[con] (quand) -- (lsitu);
\draw[arr] (lsitu) -- (mobil.west); \draw[arr] (lsitu) -- (prises); \draw[arr] (lsitu) -- (miseplace);
\end{pgfonlayer}
\end{tikzpicture}
\end{document}
